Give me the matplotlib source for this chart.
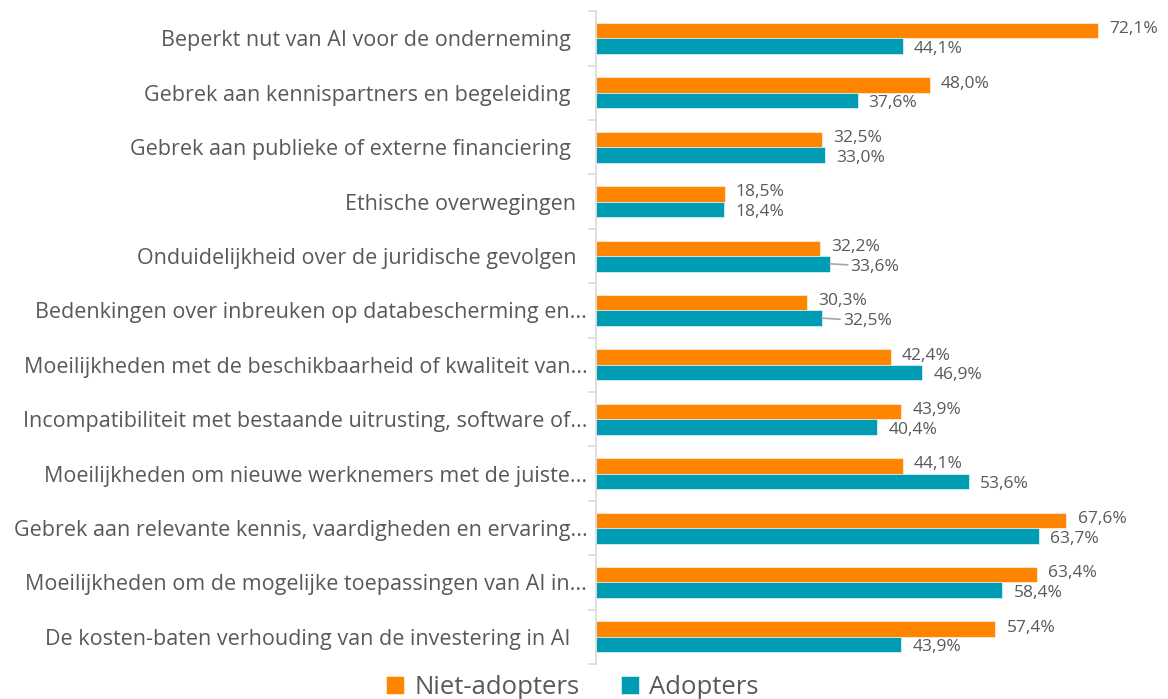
import matplotlib.pyplot as plt
import numpy as np

plt.rcParams['font.family'] = ['Open Sans', 'DejaVu Sans']

categories = [
    "Beperkt nut van AI voor de onderneming\u00a0\u00a0\u00a0",
    "Gebrek aan kennispartners en begeleiding\u00a0\u00a0\u00a0",
    "Gebrek aan publieke of externe financiering\u00a0\u00a0\u00a0",
    "Ethische overwegingen\u00a0\u00a0",
    "Onduidelijkheid over de juridische gevolgen\u00a0\u00a0",
    "Bedenkingen over inbreuken op databescherming en...",
    "Moeilijkheden met de beschikbaarheid of kwaliteit van...",
    "Incompatibiliteit met bestaande uitrusting, software of...",
    "Moeilijkheden om nieuwe werknemers met de juiste...",
    "Gebrek aan relevante kennis, vaardigheden en ervaring...",
    "Moeilijkheden om de mogelijke toepassingen van AI in...",
    "De kosten-baten verhouding van de investering in AI\u00a0\u00a0\u00a0",
]
niet_adopters = [72.1, 48.0, 32.5, 18.5, 32.2, 30.3, 42.4, 43.9, 44.1, 67.6, 63.4, 57.4]
adopters = [44.1, 37.6, 33.0, 18.4, 33.6, 32.5, 46.9, 40.4, 53.6, 63.7, 58.4, 43.9]

ORANGE = "#FF8400"
TEAL = "#009CB4"
TXT = "#595959"
GRID = "#D9D9D9"


def fmt(v):
    return "{:.1f}%".format(v).replace(".", ",")


def main():
    fig = plt.figure(figsize=(11.68, 6.99), dpi=100)
    ax = fig.add_axes([0.510, 0.050, 0.477, 0.934])

    y = np.arange(len(categories))
    h = 0.285
    ax.barh(y - h / 2, niet_adopters, height=h, color=ORANGE, label="Niet-adopters",
            edgecolor="white", linewidth=0.4)
    ax.barh(y + h / 2, adopters, height=h, color=TEAL, label="Adopters",
            edgecolor="white", linewidth=0.4)

    # data labels; teal label pushed aside with a leader line where it would collide
    for i, (o, t) in enumerate(zip(niet_adopters, adopters)):
        ax.annotate(fmt(o), (o, i - h / 2), xytext=(8, 1), textcoords="offset points",
                    va="center", ha="left", fontsize=12.5, color=TXT)
        if 1 < t - o < 3:
            ax.annotate(fmt(t), (t, i + h / 2), xytext=(15, -2), textcoords="offset points",
                        va="center", ha="left", fontsize=12.5, color=TXT,
                        arrowprops=dict(arrowstyle="-", color="#A6A6A6", lw=1.2,
                                        shrinkA=0, shrinkB=0))
        else:
            ax.annotate(fmt(t), (t, i + h / 2), xytext=(8, -2), textcoords="offset points",
                        va="center", ha="left", fontsize=12.5, color=TXT)

    ax.set_xlim(0, 80)
    ax.set_ylim(len(categories) - 0.5, -0.5)
    ax.set_yticks(y)
    ax.set_yticklabels(categories, fontsize=15.5, color=TXT)
    ax.tick_params(axis="y", which="major", length=0, pad=6)
    ax.set_yticks(np.arange(len(categories) + 1) - 0.5, minor=True)
    ax.tick_params(axis="y", which="minor", length=6, color=GRID, width=1.2)
    ax.set_xticks([])

    for s in ["top", "right", "bottom"]:
        ax.spines[s].set_visible(False)
    ax.spines["left"].set_color(GRID)
    ax.spines["left"].set_linewidth(1.2)

    fig.legend(loc="lower center", bbox_to_anchor=(0.49, -0.034), ncol=2, frameon=False,
               fontsize=18.5, labelcolor=TXT, handlelength=0.7, handleheight=0.7,
               handletextpad=0.4, columnspacing=1.6)

    fig.savefig("out.png", dpi=100)


if __name__ == "__main__":
    main()
